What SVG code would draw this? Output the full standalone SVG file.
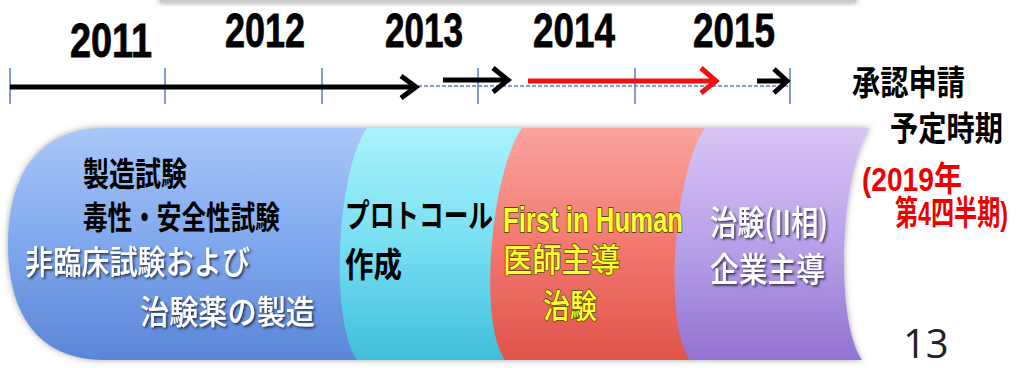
<svg xmlns="http://www.w3.org/2000/svg" width="1022" height="368" viewBox="0 0 1022 368">
<defs>
<style>
.yr{font-family:"Liberation Sans Narrow","Liberation Sans",Arial,sans-serif;font-weight:700;font-size:48px;fill:#000;stroke:#000;stroke-width:0.8}
.jb{font-family:"Noto Sans CJK JP",sans-serif;font-weight:700;fill:#000}
.jw{font-family:"Noto Sans CJK JP",sans-serif;font-weight:500;fill:#fff;filter:url(#tsh)}
.yl{font-family:"Liberation Sans Narrow","Liberation Sans","Noto Sans CJK JP",sans-serif;font-weight:700;fill:#ffff30;stroke:#5a4a00;stroke-width:1.4;paint-order:stroke;stroke-linejoin:round}
.yj{font-family:"Noto Sans CJK JP",sans-serif;font-weight:500;fill:#ffff30;stroke:#5a4a00;stroke-width:1.4;paint-order:stroke;stroke-linejoin:round}
.rd{font-family:"Liberation Sans Narrow","Liberation Sans","Noto Sans CJK JP",sans-serif;font-weight:700;fill:#ee0000}
.tick{stroke:#5a7dc0;stroke-width:1.5}
.blk{stroke:#000;stroke-width:5;fill:none;stroke-linecap:butt;stroke-linejoin:miter}
.red{stroke:#ee1111;stroke-width:5;fill:none;stroke-linejoin:miter}
</style>
<linearGradient id="gb" x1="0" y1="0" x2="0" y2="1"><stop offset="0" stop-color="#a9c7f8"/><stop offset="0.5" stop-color="#80a8ee"/><stop offset="1" stop-color="#5a86d8"/></linearGradient>
<linearGradient id="gc" x1="0" y1="0" x2="0" y2="1"><stop offset="0" stop-color="#a8f3fc"/><stop offset="0.5" stop-color="#78dff2"/><stop offset="1" stop-color="#3fbedb"/></linearGradient>
<linearGradient id="gr" x1="0" y1="0" x2="0" y2="1"><stop offset="0" stop-color="#f9a59e"/><stop offset="0.5" stop-color="#f27870"/><stop offset="1" stop-color="#e0544a"/></linearGradient>
<linearGradient id="gp" x1="0" y1="0" x2="0" y2="1"><stop offset="0" stop-color="#d8c5f5"/><stop offset="0.5" stop-color="#b9a1e9"/><stop offset="1" stop-color="#9272d1"/></linearGradient>
<linearGradient id="gtop" x1="0" y1="0" x2="0" y2="1"><stop offset="0" stop-color="#9a9a9a"/><stop offset="1" stop-color="#d0d0d0"/></linearGradient>
<filter id="sh" x="-5%" y="-10%" width="110%" height="120%"><feDropShadow dx="0" dy="0" stdDeviation="3" flood-color="#555" flood-opacity="0.55"/></filter>
<filter id="tsh" x="-10%" y="-20%" width="120%" height="150%"><feDropShadow dx="1.5" dy="1.5" stdDeviation="1" flood-color="#223" flood-opacity="0.85"/></filter>
</defs>
<rect width="1022" height="368" fill="#fff"/>
<rect x="160" y="-20" width="696" height="23" fill="url(#gtop)" filter="url(#sh)"/>
<g id="years">
<text class="yr" x="70" y="57" textLength="82" lengthAdjust="spacingAndGlyphs">2011</text>
<text class="yr" x="225" y="47" textLength="80" lengthAdjust="spacingAndGlyphs">2012</text>
<text class="yr" x="385" y="47" textLength="78" lengthAdjust="spacingAndGlyphs">2013</text>
<text class="yr" x="533" y="47" textLength="82" lengthAdjust="spacingAndGlyphs">2014</text>
<text class="yr" x="693" y="47" textLength="82" lengthAdjust="spacingAndGlyphs">2015</text>
</g>
<g id="connectors">
<line x1="418" y1="86" x2="790" y2="86" stroke="#5a7dc0" stroke-width="1.6" stroke-dasharray="4 2"/>
<line class="tick" x1="10" y1="68" x2="10" y2="104"/>
<line class="tick" x1="165" y1="68" x2="165" y2="104"/>
<line class="tick" x1="322" y1="68" x2="322" y2="104"/>
<line class="tick" x1="478" y1="68" x2="478" y2="104"/>
<line class="tick" x1="635" y1="68" x2="635" y2="104"/>
<line class="tick" x1="790" y1="68" x2="790" y2="104"/>
<line class="blk" x1="10" y1="87" x2="414" y2="87"/>
<polyline class="blk" points="401,76 416,87 401,98"/>
<line class="blk" x1="443" y1="80" x2="506" y2="80"/>
<polyline class="blk" points="493,68 508,80 493,92"/>
<line class="red" x1="528" y1="81" x2="714" y2="81" stroke-width="6"/>
<polyline class="red" points="701,68 716,81 701,93"/>
<line class="blk" x1="757" y1="81" x2="784" y2="81"/>
<polyline class="blk" points="774,69 787,81 774,93"/>
</g>
<g id="bands" filter="url(#sh)">
<g id="n-blue"><path d="M105,128 C35,128 8,180 8,244 C8,310 35,360 105,360 L420,360 L420,128 Z" fill="url(#gb)"/></g>
<g id="n-cyan"><path d="M367,128 L560,128 L560,360 L357,360 C329,320 337,170 367,128 Z" fill="url(#gc)"/></g>
<g id="n-red"><path d="M522,128 L740,128 L740,360 L505,360 C477,320 492,170 522,128 Z" fill="url(#gr)"/></g>
<g id="n-purple"><path d="M705,128 L870,128 C840,170 834,320 862,360 L690,360 C662,320 675,170 705,128 Z" fill="url(#gp)"/></g>
</g>
<g id="t-blue">
<text class="jb" transform="translate(83,186) scale(1,1.27)" font-size="26" textLength="104" lengthAdjust="spacingAndGlyphs">製造試験</text>
<text class="jb" transform="translate(83,229) scale(1,1.28)" font-size="25" textLength="197" lengthAdjust="spacingAndGlyphs">毒性・安全性試験</text>
<text class="jw" transform="translate(25,274) scale(1,1.18)" font-size="28" textLength="225" lengthAdjust="spacingAndGlyphs">非臨床試験および</text>
<text class="jw" transform="translate(140,324) scale(1,1.14)" font-size="29" textLength="175" lengthAdjust="spacingAndGlyphs">治験薬の製造</text>
</g>
<g id="t-cyan">
<text class="jb" transform="translate(345,227) scale(1,1.28)" font-size="25" textLength="148" lengthAdjust="spacingAndGlyphs">プロトコール</text>
<text class="jb" transform="translate(345,277) scale(1,1.21)" font-size="28" textLength="57" lengthAdjust="spacingAndGlyphs">作成</text>
</g>
<g id="t-red">
<text class="yl" transform="translate(503,232) scale(1,1.35)" font-size="26" textLength="180" lengthAdjust="spacingAndGlyphs">First in Human</text>
<text class="yj" transform="translate(503,272) scale(1,1.14)" font-size="29" textLength="117" lengthAdjust="spacingAndGlyphs">医師主導</text>
<text class="yj" transform="translate(543,318) scale(1,1.22)" font-size="27" textLength="54" lengthAdjust="spacingAndGlyphs">治験</text>
</g>
<g id="t-purple">
<text class="jw" transform="translate(710,235) scale(1,1.17)" font-size="29" textLength="118" lengthAdjust="spacingAndGlyphs">治験(II相)</text>
<text class="jw" transform="translate(710,282) scale(1,1.17)" font-size="29" textLength="115" lengthAdjust="spacingAndGlyphs">企業主導</text>
</g>
<g id="t-side">
<text class="jb" transform="translate(852,95) scale(1,1.21)" font-size="28" textLength="113" lengthAdjust="spacingAndGlyphs">承認申請</text>
<text class="jb" transform="translate(890,141) scale(1,1.21)" font-size="28" textLength="113" lengthAdjust="spacingAndGlyphs">予定時期</text>
<text class="rd" transform="translate(862,191) scale(1,1.26)" font-size="27" textLength="100" lengthAdjust="spacingAndGlyphs">(2019年</text>
<text class="rd" transform="translate(895,225) scale(1,1.4)" font-size="24" textLength="113" lengthAdjust="spacingAndGlyphs">第4四半期)</text>
</g>
<text x="903" y="358" font-family="Open Sans, Liberation Sans, sans-serif" font-size="40" fill="#222">13</text>
</svg>
